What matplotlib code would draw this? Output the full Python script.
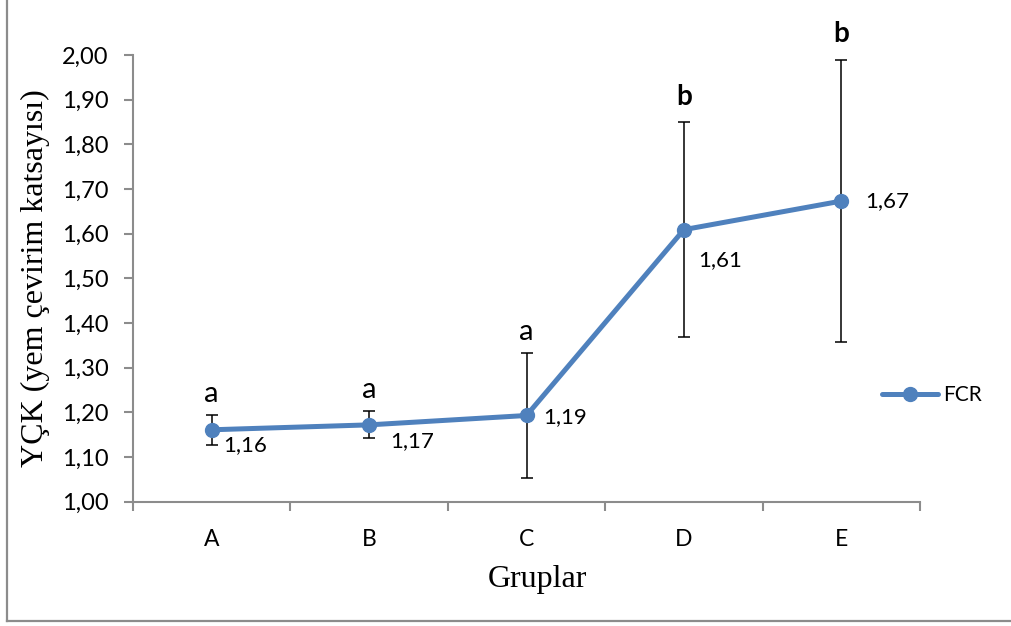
import matplotlib
matplotlib.use('Agg')
import matplotlib.pyplot as plt
from matplotlib.lines import Line2D
import numpy as np

# veriler
gruplar = ['A', 'B', 'C', 'D', 'E']
fcr = [1.161, 1.172, 1.193, 1.609, 1.673]
hata = [0.033, 0.030, 0.140, 0.241, 0.316]
etiketler = ['1,16', '1,17', '1,19', '1,61', '1,67']
harfler = ['a', 'a', 'a', 'b', 'b']

# etiket kaydirmalari (nokta cinsinden)
etiket_ofset = [(8, -11), (15, -12), (12, -1), (10, -22), (17, 0)]

mavi = '#4F81BD'
gri = '#8C8C8C'
sans = 'Lato'
serif = 'Liberation Serif'

fig = plt.figure(figsize=(10.11, 6.26), dpi=100)
ax = fig.add_axes([133 / 1011, 1 - 501.7 / 626, (920 - 133) / 1011, (501.7 - 55) / 626])

x = np.arange(len(gruplar))
ax.errorbar(x, fcr, yerr=hata, fmt='none', ecolor='black', elinewidth=1.1,
            capsize=4.3, capthick=1.1, zorder=2)
ax.plot(x, fcr, color=mavi, linewidth=3.6, marker='o', markersize=10,
        solid_capstyle='round', label='FCR', zorder=3)

for i in range(len(x)):
    ax.annotate(etiketler[i], (x[i], fcr[i]), xytext=etiket_ofset[i],
                textcoords='offset points', ha='left', va='center',
                fontsize=16, family=sans, color='black')
    if harfler[i] == 'b':
        ax.annotate(harfler[i], (x[i], fcr[i] + hata[i]), xytext=(0, 9),
                    textcoords='offset points', ha='center', va='bottom',
                    fontsize=20, fontweight='bold', family=sans)
    else:
        ax.annotate(harfler[i], (x[i], fcr[i] + hata[i]), xytext=(0, 6),
                    textcoords='offset points', ha='center', va='bottom',
                    fontsize=21, family=sans)

ax.set_xlim(-0.5, len(gruplar) - 0.5)
ax.set_ylim(1.0, 2.0)
ax.set_yticks(np.arange(1.0, 2.001, 0.1))
ax.set_yticklabels([f'{v:.2f}'.replace('.', ',') for v in np.arange(1.0, 2.001, 0.1)],
                   fontsize=17, family=sans)
ax.set_xticks(x)
ax.set_xticklabels(gruplar, fontsize=16.5, family=sans)
ax.set_xticks(np.arange(-0.5, len(gruplar), 1.0), minor=True)
ax.tick_params(axis='x', which='major', length=0, pad=20)
ax.tick_params(axis='x', which='minor', length=6.5, width=1.5, color=gri, direction='out')
ax.tick_params(axis='y', length=6.5, width=1.5, color=gri, direction='out', pad=11)

for s in ['top', 'right']:
    ax.spines[s].set_visible(False)
for s in ['left', 'bottom']:
    ax.spines[s].set_color(gri)
    ax.spines[s].set_linewidth(1.5)

ax.set_ylabel('YÇK (yem çevirim katsayısı)', fontsize=23, family=serif)
ax.yaxis.set_label_coords(-0.105, 0.5)
ax.set_xlabel('Gruplar', fontsize=23, family=serif)
ax.xaxis.set_label_coords(0.514, -0.142)

leg = fig.legend(loc='center left', bbox_to_anchor=(0.872, 0.369), frameon=False,
                 handlelength=2.7, handletextpad=0.25,
                 borderpad=0, borderaxespad=0, prop={'family': sans, 'size': 15})

# dis cerceve
fig.add_artist(Line2D([6.5 / 1011, 6.5 / 1011], [1.0, 1 - 620.5 / 626],
                      color=gri, linewidth=1.6, transform=fig.transFigure))
fig.add_artist(Line2D([6.5 / 1011, 1.0], [1 - 620.5 / 626, 1 - 620.5 / 626],
                      color=gri, linewidth=1.6, transform=fig.transFigure))

fig.savefig('out.png', dpi=100)
